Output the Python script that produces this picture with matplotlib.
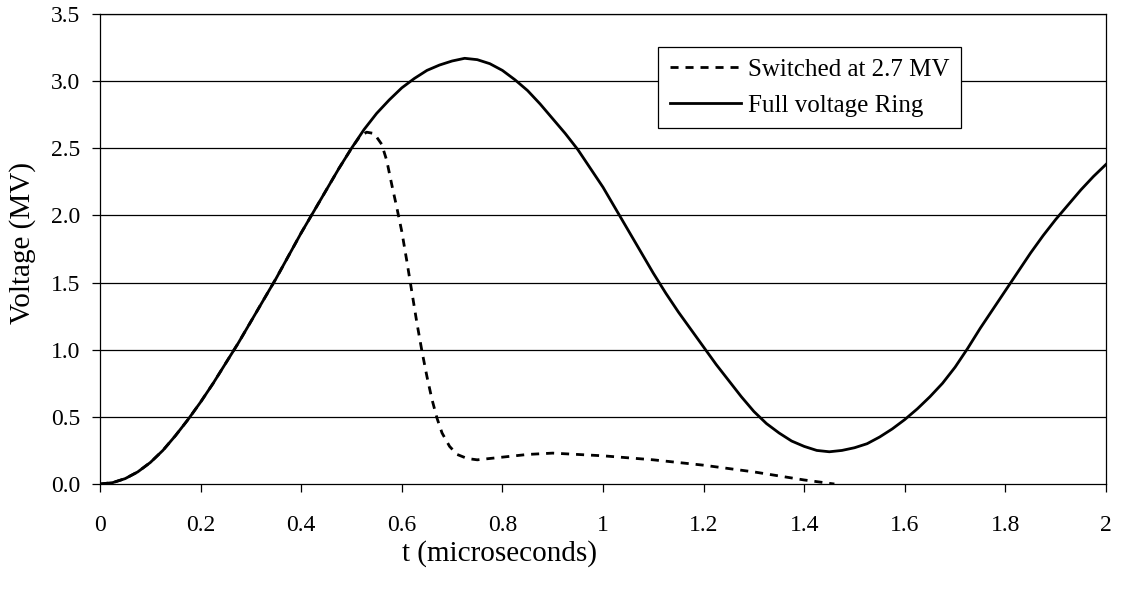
import matplotlib.pyplot as plt

plt.rcParams['font.family'] = ['Liberation Serif', 'DejaVu Serif']

# Full voltage ring
t_full = [0.000, 0.025, 0.050, 0.075, 0.100, 0.125, 0.150, 0.175, 0.200, 0.225,
          0.250, 0.275, 0.300, 0.325, 0.350, 0.375, 0.400, 0.425, 0.450, 0.475,
          0.500, 0.525, 0.550, 0.575, 0.600, 0.625, 0.650, 0.675, 0.700, 0.725,
          0.750, 0.775, 0.800, 0.825, 0.850, 0.875, 0.900, 0.925, 0.950, 0.975,
          1.000, 1.025, 1.050, 1.075, 1.100, 1.125, 1.150, 1.175, 1.200, 1.225,
          1.250, 1.275, 1.300, 1.325, 1.350, 1.375, 1.400, 1.425, 1.450, 1.475,
          1.500, 1.525, 1.550, 1.575, 1.600, 1.625, 1.650, 1.675, 1.700, 1.725,
          1.750, 1.775, 1.800, 1.825, 1.850, 1.875, 1.900, 1.925, 1.950, 1.975,
          2.000]
v_full = [0.00, 0.01, 0.04, 0.09, 0.16, 0.25, 0.36, 0.48, 0.61, 0.75,
          0.90, 1.05, 1.21, 1.37, 1.53, 1.70, 1.87, 2.03, 2.19, 2.35,
          2.50, 2.64, 2.76, 2.86, 2.95, 3.02, 3.08, 3.12, 3.15, 3.17,
          3.16, 3.13, 3.08, 3.01, 2.93, 2.83, 2.72, 2.61, 2.49, 2.35,
          2.21, 2.05, 1.89, 1.73, 1.57, 1.42, 1.28, 1.15, 1.02, 0.89,
          0.77, 0.65, 0.54, 0.45, 0.38, 0.32, 0.28, 0.25, 0.24, 0.25,
          0.27, 0.30, 0.35, 0.41, 0.48, 0.56, 0.65, 0.75, 0.87, 1.01,
          1.16, 1.30, 1.44, 1.58, 1.72, 1.85, 1.97, 2.08, 2.19, 2.29,
          2.38]

# Switched at 2.7 MV
t_sw = [0.000, 0.025, 0.050, 0.075, 0.100, 0.125, 0.150, 0.175, 0.200, 0.225,
        0.250, 0.275, 0.300, 0.325, 0.350, 0.375, 0.400, 0.425, 0.450, 0.475,
        0.500, 0.515, 0.530, 0.545, 0.560, 0.570, 0.580, 0.590, 0.600, 0.610,
        0.620, 0.630, 0.640, 0.650, 0.660, 0.670, 0.680, 0.695, 0.710, 0.730,
        0.750, 0.775, 0.800, 0.850, 0.900, 0.950, 1.000, 1.100, 1.200, 1.300,
        1.400, 1.460]
v_sw = [0.00, 0.01, 0.04, 0.09, 0.16, 0.25, 0.36, 0.48, 0.61, 0.75,
        0.90, 1.05, 1.21, 1.37, 1.53, 1.70, 1.87, 2.03, 2.19, 2.35,
        2.50, 2.58, 2.62, 2.61, 2.53, 2.41, 2.23, 2.06, 1.88, 1.66,
        1.43, 1.20, 0.99, 0.80, 0.63, 0.49, 0.38, 0.28, 0.22, 0.19,
        0.18, 0.19, 0.20, 0.22, 0.23, 0.22, 0.21, 0.18, 0.14, 0.09,
        0.03, 0.00]

x_ticks = [0, 0.2, 0.4, 0.6, 0.8, 1, 1.2, 1.4, 1.6, 1.8, 2]
x_labels = ['0', '0.2', '0.4', '0.6', '0.8', '1', '1.2', '1.4', '1.6', '1.8', '2']
y_ticks = [0.0, 0.5, 1.0, 1.5, 2.0, 2.5, 3.0, 3.5]

fig = plt.figure(figsize=(11.25, 5.92), dpi=100)
ax = fig.add_axes([100 / 1125, 108 / 592, 1006 / 1125, 470 / 592])

for y in y_ticks[1:]:
    ax.axhline(y, color='black', lw=0.9, zorder=1)

ax.plot(t_sw, v_sw, color='black', lw=2.0, dashes=(2.9, 2.5),
        label='Switched at 2.7 MV', zorder=3)
ax.plot(t_full, v_full, color='black', lw=2.0, solid_joinstyle='round',
        label='Full voltage Ring', zorder=2)

ax.set_xlim(0, 2)
ax.set_ylim(0, 3.5)
ax.set_xticks(x_ticks)
ax.set_xticklabels(x_labels)
ax.set_yticks(y_ticks)
ax.set_yticklabels([f'{y:.1f}' for y in y_ticks])
ax.tick_params(axis='x', direction='out', length=6, width=0.9, pad=16, labelsize=17)
ax.tick_params(axis='y', direction='out', length=6, width=0.9, pad=8, labelsize=17)
for s in ax.spines.values():
    s.set_linewidth(0.9)

ax.set_xlabel('t (microseconds)', fontsize=21)
ax.xaxis.set_label_coords(400 / 1006, -0.12)
ax.set_ylabel('Voltage (MV)', fontsize=21)
ax.yaxis.set_label_coords(-0.064, 0.513)

leg = ax.legend(loc='upper left', bbox_to_anchor=(0.555, 0.93), fontsize=18,
                handlelength=2.85, handletextpad=0.3, borderpad=0.45,
                labelspacing=0.55, fancybox=False, framealpha=1,
                edgecolor='black', borderaxespad=0)
leg.get_frame().set_linewidth(0.9)

fig.savefig('out.png', dpi=100)
